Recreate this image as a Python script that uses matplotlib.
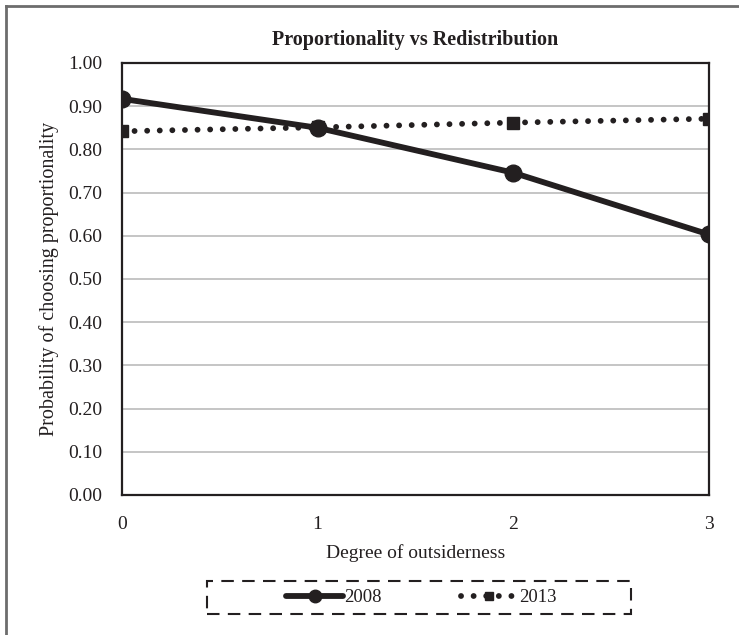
import matplotlib
matplotlib.use("Agg")
import matplotlib.pyplot as plt
from matplotlib.patches import Rectangle
from matplotlib.lines import Line2D

x_vals = [0, 1, 2, 3]
x_labels = ["0", "1", "2", "3"]
y2008 = [0.917, 0.850, 0.746, 0.603]
y2013 = [0.842, 0.851, 0.862, 0.871]
y_ticks = [0.0, 0.1, 0.2, 0.3, 0.4, 0.5, 0.6, 0.7, 0.8, 0.9, 1.0]
series_names = ["2008", "2013"]

plt.rcParams['font.family'] = ['Liberation Serif', 'DejaVu Serif']
INK = "#231f20"

fig = plt.figure(figsize=(7.39, 6.35), dpi=100)
ax = fig.add_axes([0.165, 0.2205, 0.7944, 0.6803])

ax.plot(x_vals, y2008, color=INK, lw=4.2, marker='o', markersize=12, solid_capstyle='round',
        label=series_names[0], zorder=3)
ax.plot(x_vals, y2013, color=INK, lw=4.2, linestyle=(0, (0.01, 2.15)), dash_capstyle='round',
        marker='s', markersize=8.5, label=series_names[1], zorder=4)

ax.set_xlim(0, 3)
ax.set_ylim(0, 1.0)
ax.set_xticks(x_vals)
ax.set_xticklabels(x_labels)
ax.set_yticks(y_ticks)
ax.set_yticklabels([f"{v:.2f}" for v in y_ticks])
ax.tick_params(axis='both', length=0, labelsize=14, colors=INK)
ax.tick_params(axis='y', pad=14)
ax.tick_params(axis='x', pad=15)
ax.yaxis.grid(True, color="#c0c0c0", lw=1.3)
ax.set_axisbelow(True)
for s in ax.spines.values():
    s.set_color(INK)
    s.set_linewidth(1.6)

ax.set_title("Proportionality vs Redistribution", fontsize=14.5, fontweight='bold', color=INK, pad=13)
ax.set_xlabel("Degree of outsiderness", fontsize=14, color=INK, labelpad=8)
ax.set_ylabel("Probability of choosing proportionality", fontsize=14.5, color=INK, labelpad=7)

# dashed legend box
W, H = 739.0, 635.0
fig.patches.append(Rectangle((207 / W, 1 - 614 / H), (631 - 207) / W, (614 - 581) / H,
                             transform=fig.transFigure, fill=False, edgecolor=INK,
                             lw=1.5, linestyle=(0, (6, 4))))
leg = fig.legend(loc='center', bbox_to_anchor=(421.5 / W, 1 - 597.5 / H), ncol=2, frameon=False,
                 fontsize=13.5, handlelength=3.0, handletextpad=0.1, columnspacing=4.2,
                 markerscale=0.75, labelcolor=INK)

# outer figure border (top and left)
fig.add_artist(Line2D([6 / W, 6 / W], [0, 1 - 6 / H], transform=fig.transFigure, color="#6d6d6d", lw=2))
fig.add_artist(Line2D([6 / W, 1], [1 - 6 / H, 1 - 6 / H], transform=fig.transFigure, color="#6d6d6d", lw=2))

fig.savefig("out.png", dpi=100, facecolor='white')
